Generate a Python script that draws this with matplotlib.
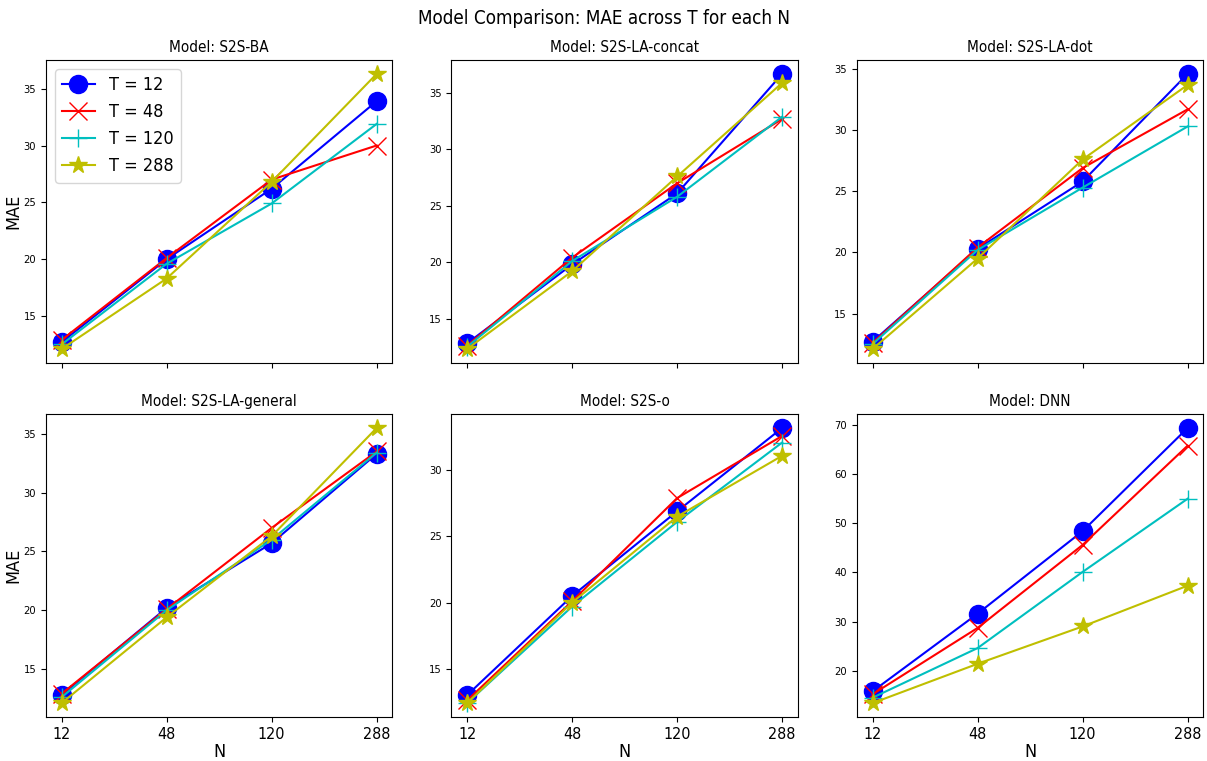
import numpy as np
import matplotlib
matplotlib.use("Agg")
import matplotlib.pyplot as plt

plt.rcParams['font.family'] = ['DejaVu Sans']
plt.rcParams['font.stretch'] = 'condensed'

n_labels = ["12", "48", "120", "288"]
t_labels = ["T = 12", "T = 48", "T = 120", "T = 288"]
models = ["S2S-BA", "S2S-LA-concat", "S2S-LA-dot", "S2S-LA-general", "S2S-o", "DNN"]

# MAE per model, rows = T (12, 48, 120, 288), columns = N (12, 48, 120, 288)
mae_s2s_ba = [[12.7, 20.0, 26.2, 33.9],
              [12.9, 20.1, 27.0, 30.0],
              [12.5, 19.6, 24.9, 31.9],
              [12.1, 18.3, 26.8, 36.3]]
mae_la_concat = [[12.8, 19.8, 26.1, 36.7],
                 [12.6, 20.4, 27.0, 32.7],
                 [12.5, 20.1, 25.8, 32.9],
                 [12.3, 19.2, 27.6, 35.9]]
mae_la_dot = [[12.7, 20.3, 25.8, 34.6],
              [12.6, 20.4, 26.9, 31.7],
              [12.5, 20.2, 25.3, 30.3],
              [12.1, 19.5, 27.6, 33.7]]
mae_la_general = [[12.8, 20.2, 25.7, 33.3],
                  [12.9, 20.1, 27.0, 33.5],
                  [12.6, 20.0, 26.0, 33.4],
                  [12.1, 19.4, 26.3, 35.5]]
mae_s2s_o = [[13.0, 20.5, 26.9, 33.2],
             [12.6, 20.1, 27.9, 32.6],
             [12.4, 19.7, 26.1, 32.1],
             [12.4, 20.0, 26.5, 31.1]]
mae_dnn = [[15.8, 31.6, 48.4, 69.4],
           [15.2, 28.7, 45.6, 65.8],
           [14.5, 24.6, 40.1, 55.0],
           [13.4, 21.4, 29.0, 37.3]]

all_mae = [mae_s2s_ba, mae_la_concat, mae_la_dot, mae_la_general, mae_s2s_o, mae_dnn]
styles = ['b-o', 'r-x', 'c-+', 'y-*']

fig, axes = plt.subplots(2, 3, figsize=(12.07, 7.61), dpi=100, sharex=True)
x = np.arange(len(n_labels))

for i, ax in enumerate(axes.flat):
    for j in range(4):
        ax.plot(x, all_mae[i][j], styles[j], markersize=13, label=t_labels[j])
    ax.set_title("Model: " + models[i], fontsize=11)
    ax.tick_params(labelsize=8)
    if i % 3 == 0:
        ax.set_ylabel("MAE", fontsize=13, labelpad=1)
    if i >= 3:
        ax.set_xlabel("N", fontsize=13, labelpad=1)
        ax.tick_params(axis='x', labelsize=11.5)

axes[0, 0].set_xticks(x)
axes[0, 0].set_xticklabels(n_labels)
axes[0, 0].legend(fontsize=13, loc='upper left', handlelength=1.8)

fig.suptitle("Model Comparison: MAE across T for each N", fontsize=13.5, y=0.988)
fig.subplots_adjust(left=0.038, right=0.997, bottom=0.058, top=0.921, wspace=0.17, hspace=0.17)
plt.savefig("out.png")
